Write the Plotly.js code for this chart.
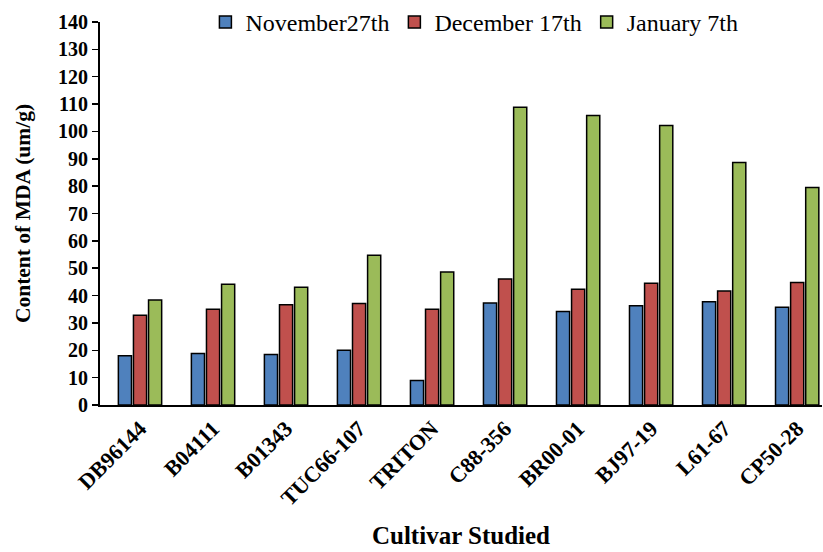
<!DOCTYPE html>
<html>
<head>
<meta charset="utf-8">
<script src="https://cdn.plot.ly/plotly-3.0.1.min.js"></script>
<style>body{margin:0;background:#fff;} #chart{width:823px;height:552px;}</style>
</head>
<body>
<div id="chart"></div>
<script>
const cultivars = ["DB96144","B04111","B01343","TUC66-107","TRITON","C88-356","BR00-01","BJ97-19","L61-67","CP50-28"];
const nov27 = [18.0, 18.8, 18.5, 20.0, 9.0, 37.3, 34.2, 36.3, 37.7, 35.7];
const dec17 = [32.8, 35.0, 36.6, 37.1, 35.0, 46.1, 42.3, 44.5, 41.7, 44.8];
const jan7  = [38.4, 44.1, 43.0, 54.7, 48.6, 108.8, 105.8, 102.2, 88.6, 79.5];
const seriesNames = ["November27th", "December 17th", "January 7th"];
const colors = ["#4F81BD", "#C0504D", "#9BBB59"];

const serif = "Liberation Serif";
const data = [nov27, dec17, jan7].map((v, i) => ({
  type: "bar", x: cultivars, y: v, name: seriesNames[i],
  marker: {color: colors[i], line: {color: "#000", width: 1.5}}
}));

const layout = {
  width: 823, height: 552,
  margin: {l: 100, r: 1, t: 21, b: 147},
  paper_bgcolor: "#fff", plot_bgcolor: "#fff",
  barmode: "group", bargap: 0.38, bargroupgap: 0.13,
  showlegend: true,
  legend: {orientation: "h", x: 0.146, xanchor: "left", y: 1.055, yanchor: "top",
           font: {family: serif, size: 24, color: "#000"}, bgcolor: "rgba(0,0,0,0)",
           itemwidth: 30, tracegroupgap: 0},
  xaxis: {
    type: "category", range: [-0.548, 9.34],
    showline: true, linecolor: "#000", linewidth: 2, ticks: "", showgrid: false,
    tickangle: -45, tickfont: {family: serif, size: 22, color: "#000", weight: "bold"},
    title: {text: "Cultivar Studied", font: {family: serif, size: 25, color: "#000", weight: "bold"}, standoff: 17}
  },
  yaxis: {
    range: [0, 140], dtick: 10, showline: true, linecolor: "#000", linewidth: 2,
    ticks: "outside", ticklen: 6, tickwidth: 1.5, tickcolor: "#000", showgrid: false, zeroline: false,
    tickfont: {family: serif, size: 20, color: "#000", weight: "bold"},
    title: {text: "Content of MDA (um/g)", font: {family: serif, size: 21.5, color: "#000", weight: "bold"}, standoff: 21}
  }
};
Plotly.newPlot("chart", data, layout, {displayModeBar: false, staticPlot: true});
</script>
</body>
</html>
